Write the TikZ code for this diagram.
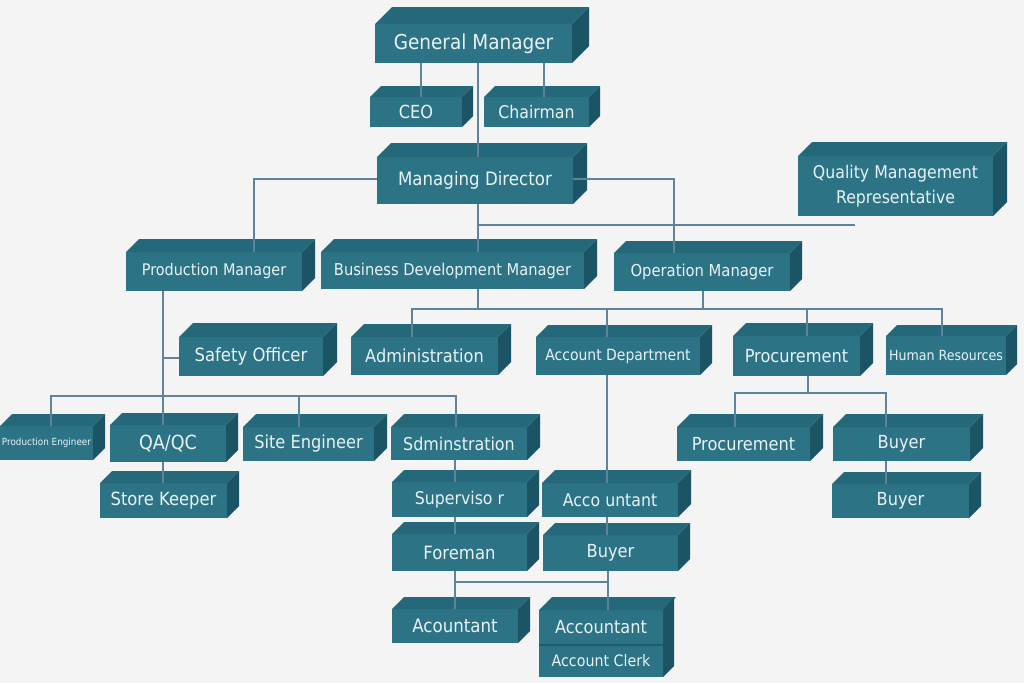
\documentclass[tikz,border=0pt]{standalone}
\usepackage{fontspec}
\setmainfont{DejaVu Sans}[FakeStretch=0.9]
\definecolor{bgc}{HTML}{F4F4F4}
\definecolor{frontc}{HTML}{2C7386}
\definecolor{topc}{HTML}{25687A}
\definecolor{sidec}{HTML}{1B5465}
\definecolor{txtc}{HTML}{E9F2F5}
\definecolor{linec}{HTML}{5F8399}
\definecolor{divc}{HTML}{1F5D6E}
\newcommand\cube[8]{%
\node[frontbox, minimum width={#4-#2}, minimum height={#5-#3}, font=\fontsize{#7}{25}\selectfont] (#1) at ({(#2+#4)/2},{(#3+#5)/2}) {#8};
\fill[topc] (#1.north west) -- ([shift={(#6,-#6)}]#1.north west) -- ([shift={(#6,-#6)}]#1.north east) -- (#1.north east) -- cycle;
\fill[sidec] (#1.north east) -- ([shift={(#6,-#6)}]#1.north east) -- ([shift={(#6,-#6)}]#1.south east) -- (#1.south east) -- cycle;
}
\begin{document}
\begin{tikzpicture}[x=1pt,y=-1pt,
  frontbox/.style={fill=frontc, text=txtc, inner sep=0pt, outer sep=0pt, align=center},
  conn/.style={draw=linec, line width=2.1pt}]
\fill[bgc] (0,0) rectangle (1024,683);
\useasboundingbox (0,0) rectangle (1024,683);

\cube{gm}{375}{24}{572}{63}{17}{20.5}{General Manager}
\cube{ceo}{370}{97}{462}{127}{11}{18}{CEO}
\cube{chair}{484}{97}{589}{127}{11}{17.5}{Chairman}
\cube{md}{377}{157}{573}{204}{14}{18.5}{Managing Director}
\cube{qmr}{798}{156}{993}{216}{14}{17.5}{\raisebox{-2pt}{Quality Management}\\\raisebox{-2pt}{Representative}}
\cube{pm}{126}{252}{302}{291}{13}{16}{Production Manager}
\cube{bdm}{321}{252}{584}{289}{13}{16.3}{Business Development Manager}
\cube{om}{614}{253}{790}{291}{12}{16.4}{Operation Manager}
\cube{so}{179}{337}{323}{376}{14}{18.3}{Safety Officer}
\cube{admin}{351}{337}{498}{375}{13}{18}{Administration}
\cube{ad}{536}{337}{700}{375}{12}{15.5}{Account Department}
\cube{proc}{733}{336}{860}{376}{13}{18}{Procurement}
\cube{hr}{886}{336}{1006}{375}{11}{14}{Human Resources}
\cube{pe}{0}{426}{93}{460}{12}{9.8}{Production Engineer}
\cube{qa}{110}{425}{226}{462}{12}{19.5}{QA/QC}
\cube{sk}{100}{483}{227}{518}{12}{18.2}{Store Keeper}
\cube{se}{243}{427}{374}{461}{13}{18}{Site Engineer}
\cube{sdm}{391}{427}{527}{460}{13}{17.7}{Sdminstration}
\cube{sup}{392}{482}{527}{517}{12}{17.5}{Superviso r}
\cube{acc1}{542}{483}{678}{517}{13}{17.5}{Acco untant}
\cube{fore}{392}{534}{527}{571}{12}{18.3}{Foreman}
\cube{buy1}{543}{535}{678}{571}{12}{18}{Buyer}
\cube{proc2}{677}{427}{810}{461}{13}{18}{Procurement}
\cube{buyr1}{833}{427}{970}{461}{13}{18}{Buyer}
\cube{buyr2}{832}{484}{969}{518}{12}{18}{Buyer}
\cube{acnt}{392}{609}{518}{643}{12}{18.5}{Acountant}

% Accountant + Account Clerk stacked box
\node[frontbox, minimum width=124, minimum height=35, font=\fontsize{18}{22}\selectfont] (acc2) at (601,627.5) {Accountant};
\node[frontbox, minimum width=124, minimum height=32, font=\fontsize{15.8}{19}\selectfont] (clerk) at (601,661) {Account Clerk};
\fill[topc] (acc2.north west) -- ([shift={(13,-13)}]acc2.north west) -- ([shift={(13,-13)}]acc2.north east) -- (acc2.north east) -- cycle;
\fill[sidec] (acc2.north east) -- ([shift={(11,-13)}]acc2.north east) -- ([shift={(11,-11)}]clerk.south east) -- (clerk.south east) -- cycle;
\draw[divc, line width=1.2pt] (clerk.north west) -- (clerk.north east);

% connectors
\draw[conn] (gm.south -| 421,0) -- (ceo.north -| 421,0);
\draw[conn] (gm.south -| 544,0) -- (chair.north -| 544,0);
\draw[conn] (gm.south -| 478,0) -- (md.north -| 478,0);
\draw[conn] (md.west |- 0,179) -| (pm.north -| 254,0);
\draw[conn] (md.east |- 0,179) -| (om.north -| 674,0);
\draw[conn] (md.south -| 478,0) -- (bdm.north -| 478,0);
\coordinate (mdjoin) at (478,225);
\coordinate (qmrlink) at (855,225);
\draw[conn] (mdjoin) -- (qmrlink);

\draw[conn] (pm.south -| 163,0) -- (qa.north -| 163,0);
\draw[conn] (so.west |- 0,358) -- (163,358);
\coordinate (pmbar) at (163,396);
\draw[conn] (pe.north -| 51,0) |- (pmbar) -| (sdm.north -| 456,0);
\draw[conn] (se.north -| 299,0) -- (299,396);
\draw[conn] (qa.south -| 163,0) -- (sk.north -| 163,0);
\draw[conn] (sdm.south -| 455,0) -- (sup.north -| 455,0);
\draw[conn] (sup.south -| 455,0) -- (fore.north -| 455,0);

\coordinate (bdmbar) at (607,309);
\draw[conn] (bdm.south -| 478,0) -- (478,309);
\draw[conn] (om.south -| 703,0) -- (703,309);
\draw[conn] (admin.north -| 412,0) |- (bdmbar) -| (hr.north -| 942,0);
\draw[conn] (ad.north -| 607,0) -- (bdmbar);
\draw[conn] (proc.north -| 807,0) -- (807,309);
\draw[conn] (ad.south -| 607,0) -- (acc1.north -| 607,0);
\draw[conn] (acc1.south -| 607,0) -- (buy1.north -| 607,0);

\coordinate (procbar) at (808,393);
\draw[conn] (proc.south -| 808,0) -- (procbar);
\draw[conn] (proc2.north -| 735,0) |- (procbar) -| (buyr1.north -| 886,0);
\draw[conn] (buyr1.south -| 886,0) -- (buyr2.north -| 886,0);

\draw[conn] (fore.south -| 455,0) -- (acnt.north -| 455,0);
\draw[conn] (buy1.south -| 608,0) -- (acc2.north -| 608,0);
\draw[conn] (455,582) -- (608,582);
\end{tikzpicture}
\end{document}
